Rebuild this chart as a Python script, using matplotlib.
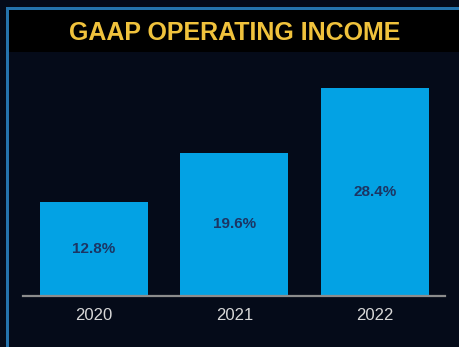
import matplotlib
matplotlib.use("Agg")
import matplotlib.pyplot as plt
from matplotlib.patches import Rectangle

years = ["2020", "2021", "2022"]
margins = [12.8, 19.6, 28.4]
labels = ["12.8%", "19.6%", "28.4%"]
title = "GAAP OPERATING INCOME"

W, H = 460, 347
fig = plt.figure(figsize=(W / 100, H / 100), dpi=100, facecolor="#050b19")

def px(x, y, w, h):
    return (x / W, 1 - (y + h) / H, w / W, h / H)

# frame: thin blue edge along top and left, black title band
for (x, y, w, h, c) in [
    (9, 10, 451, 42, "#000000"),
    (6, 7, 454, 3, "#2574ad"),
    (6, 7, 3, 340, "#2574ad"),
]:
    l, b, ww, hh = px(x, y, w, h)
    fig.add_artist(Rectangle((l, b), ww, hh, transform=fig.transFigure,
                             facecolor=c, edgecolor="none"))

fig.text(235 / W, 1 - 32.5 / H, title, ha="center", va="center",
         fontsize=18, fontweight="bold", color="#f0c23c",
         family="Liberation Sans")

ax = fig.add_axes(px(23, 60, 422, 236))
ax.set_facecolor("none")
x = range(len(years))
bars = ax.bar(x, margins, width=0.77, color="#03a2e4", zorder=2)
for xi, v, lab in zip(x, margins, labels):
    ax.text(xi, v / 2, lab, ha="center", va="center", fontsize=11,
            fontweight="bold", color="#1c3563", family="Liberation Sans")

ax.set_xlim(-0.505, 2.5)
ax.set_ylim(0, 236 / 7.31)
ax.set_xticks(list(x))
ax.set_xticklabels(years, fontsize=12, color="#d8d8d8", family="Liberation Sans")
ax.tick_params(axis="x", length=0, pad=9)
ax.set_yticks([])
for s in ["top", "right", "left"]:
    ax.spines[s].set_visible(False)
ax.spines["bottom"].set_color("#8c8c8c")
ax.spines["bottom"].set_linewidth(1.6)
ax.spines["bottom"].set_zorder(3)

fig.savefig("out.png", dpi=100, facecolor=fig.get_facecolor())
